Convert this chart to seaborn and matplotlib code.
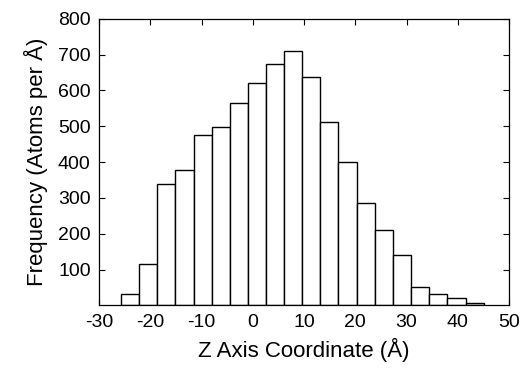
import pandas as pd
import matplotlib
matplotlib.use("Agg")
import matplotlib.pyplot as plt
import seaborn as sns

# bin edges of the histogram (Angstrom) and counts per bin
bin_left = [-25.8, -22.2, -18.7, -15.2, -11.5, -8.0, -4.5, -1.0, 2.5, 6.0,
            9.5, 13.1, 16.7, 20.3, 23.8, 27.3, 30.9, 34.4, 37.9, 41.5]
bin_right_end = 45.1
counts = [32, 117, 338, 379, 476, 497, 564, 621, 674, 710,
          637, 512, 399, 285, 211, 141, 51, 32, 22, 7]

xticks = [-30, -20, -10, 0, 10, 20, 30, 40, 50]
yticks = [100, 200, 300, 400, 500, 600, 700, 800]

edges = bin_left + [bin_right_end]
centers = [(a + b) / 2 for a, b in zip(edges[:-1], edges[1:])]
df = pd.DataFrame({"z": centers, "n": counts})

sns.set_style("ticks")
plt.rcParams["font.family"] = ["Liberation Sans", "DejaVu Sans"]
plt.rcParams["axes.unicode_minus"] = False
plt.rcParams["text.color"] = "black"
plt.rcParams["axes.labelcolor"] = "black"

fig = plt.figure(figsize=(5.27, 3.68), dpi=100)
ax = fig.add_axes([0.188, 0.170, 0.778, 0.779])

sns.histplot(
    data=df, x="z", weights="n", bins=edges, ax=ax,
    color="white", edgecolor="black", linewidth=1.0, alpha=1,
)

ax.set_xlim(-30, 50)
ax.set_ylim(0, 800)
ax.set_xticks(xticks)
ax.set_yticks(yticks)
ax.tick_params(direction="in", top=True, right=True, length=4, width=0.8,
               labelsize=14, colors="black", pad=6)
for s in ax.spines.values():
    s.set_linewidth(0.9)
    s.set_color("black")

ax.set_xlabel("Z Axis Coordinate (Å)", fontsize=16, labelpad=5)
ax.set_ylabel("Frequency (Atoms per Å)", fontsize=16, labelpad=7)

fig.savefig("out.png", dpi=100, facecolor="white")
